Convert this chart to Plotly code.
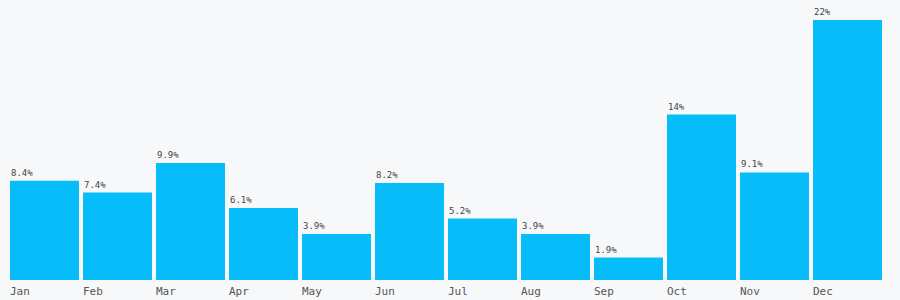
import plotly.graph_objects as go

months = ["Jan", "Feb", "Mar", "Apr", "May", "Jun", "Jul", "Aug", "Sep", "Oct", "Nov", "Dec"]
values = [8.4, 7.4, 9.9, 6.1, 3.9, 8.2, 5.2, 3.9, 1.9, 14, 9.1, 22]
labels = ["8.4%", "7.4%", "9.9%", "6.1%", "3.9%", "8.2%", "5.2%", "3.9%", "1.9%", "14%", "9.1%", "22%"]

BG = "#f7f8fa"
BAR = "#06bdfa"
TXT = "#444444"
FONT = "DejaVu Sans Mono"
GAP = 0.055

fig = go.Figure(go.Bar(x=list(range(len(months))), y=values, marker=dict(color=BAR, line=dict(width=0)),
                       hoverinfo="skip"))

ann = []
for i, (m, v, t) in enumerate(zip(months, values, labels)):
    left = i - 0.5 + GAP / 2
    ann.append(dict(x=left, y=v, xref="x", yref="y", text=t, showarrow=False,
                    xanchor="left", yanchor="bottom", yshift=1, xshift=-1,
                    font=dict(family=FONT, size=9, color=TXT)))
    ann.append(dict(x=left, y=0, xref="x", yref="y", text=m, showarrow=False,
                    xanchor="left", yanchor="top", yshift=-3, xshift=-2,
                    font=dict(family=FONT, size=11, color="#555555")))

fig.update_layout(
    width=900, height=300,
    margin=dict(l=8, r=16, t=20, b=20),
    paper_bgcolor=BG, plot_bgcolor=BG,
    bargap=GAP,
    showlegend=False,
    annotations=ann,
    xaxis=dict(range=[-0.5, 11.5], showticklabels=False, showgrid=False, zeroline=False, showline=False),
    yaxis=dict(range=[0, 22], showticklabels=False, showgrid=False, zeroline=False, showline=False),
)

fig.write_html("out.html")
